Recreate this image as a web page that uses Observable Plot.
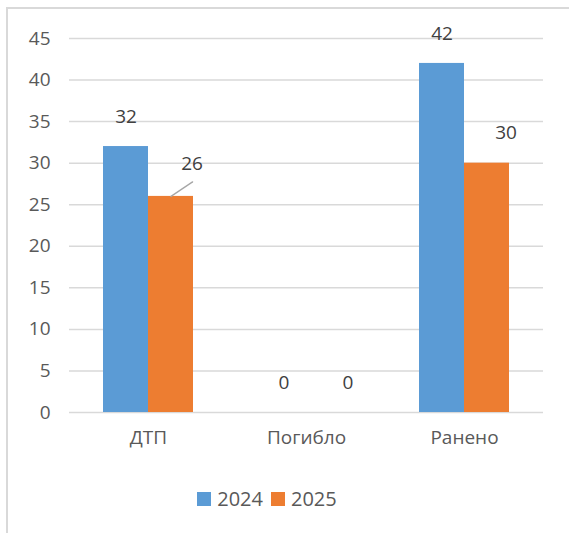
<!DOCTYPE html>
<html><head><meta charset="utf-8">
<script src="https://cdn.jsdelivr.net/npm/d3@7"></script>
<script src="https://cdn.jsdelivr.net/npm/@observablehq/plot@0.6"></script>
<style>
body{margin:0;background:#fff;font-family:"Open Sans",sans-serif;}
#wrap{position:relative;width:569px;height:533px;overflow:hidden;background:#fff}
#frame{position:absolute;left:6px;top:7px;right:-10px;bottom:-10px;border-top:2px solid #d9d9d9;border-left:2px solid #d9d9d9}
#chart{position:absolute;left:0;top:0}
#legend{position:absolute;left:0;top:485px;width:534px;display:flex;justify-content:center;align-items:center;gap:8px;font-size:20px;color:#595959}
#legend span.item{display:flex;align-items:center;gap:6px}
#legend span.sw{display:inline-block;width:14px;height:14px}
</style></head>
<body>
<div id="wrap"><div id="frame"></div><div id="chart"></div><div id="legend"></div></div>
<script>
const categories = ["ДТП", "Погибло", "Ранено"];
const years = ["2024", "2025"];
const values2024 = [32, 0, 42];
const values2025 = [26, 0, 30];
const yTicks = [0, 5, 10, 15, 20, 25, 30, 35, 40, 45];
const colors = ["#5B9BD5", "#ED7D31"];

const data = [];
categories.forEach((c, i) => {
  data.push({cat: c, year: years[0], value: values2024[i]});
  data.push({cat: c, year: years[1], value: values2025[i]});
});
const d24 = data.filter(d => d.year === years[0]);
const d25 = data.filter(d => d.year === years[1]);
const d25lead = d25.filter(d => d.cat === "ДТП");
const d25plain = d25.filter(d => d.cat !== "ДТП");

const txt = "#404040";
const fs = 19;
const chart = Plot.plot({
  width: 569, height: 470,
  marginTop: 38, marginBottom: 58, marginLeft: 68, marginRight: 26,
  style: {fontFamily: "Open Sans, sans-serif", background: "transparent"},
  fx: {domain: categories, padding: 0, label: null},
  x: {domain: years, paddingInner: 0, paddingOuter: 0.72, axis: null},
  y: {domain: [0, 45], label: null},
  color: {domain: years, range: colors},
  marks: [
    Plot.gridY(yTicks, {stroke: "#d9d9d9", strokeOpacity: 1, strokeWidth: 1.5}),
    Plot.axisY(yTicks, {tickSize: 0, tickPadding: 19, fontSize: fs, fill: "#595959", label: null}),
    Plot.axisFx({anchor: "bottom", tickSize: 0, tickPadding: 18, fontSize: fs, fill: "#595959", label: null}),
    Plot.barY(data, {fx: "cat", x: "year", y: "value", fill: "year"}),
    Plot.text(d24, {fx: "cat", x: "year", y: "value", text: d => String(d.value), dy: -30, fontSize: fs, fill: txt}),
    Plot.text(d25plain, {fx: "cat", x: "year", y: "value", text: d => String(d.value), dx: 19, dy: -30, fontSize: fs, fill: txt}),
    Plot.text(d25lead, {fx: "cat", x: "year", y: "value", text: d => String(d.value), dx: 21, dy: -33, fontSize: fs, fill: txt}),
    Plot.vector(d25lead, {fx: "cat", x: "year", y: "value", anchor: "start", rotate: 56, length: 26, stroke: "#a6a6a6", strokeWidth: 1.3,
      shape: {draw(context, l) { context.moveTo(0, 0); context.lineTo(0, -l); }}})
  ]
});
document.getElementById("chart").appendChild(chart);

const legend = document.getElementById("legend");
years.forEach((y, i) => {
  const item = document.createElement("span");
  item.className = "item";
  const sw = document.createElement("span");
  sw.className = "sw";
  sw.style.background = colors[i];
  const t = document.createElement("span");
  t.textContent = y;
  item.appendChild(sw); item.appendChild(t);
  legend.appendChild(item);
});
</script>
</body></html>
